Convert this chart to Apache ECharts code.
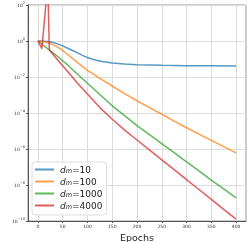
<!DOCTYPE html>
<html><head><meta charset="utf-8">
<script src="https://cdn.jsdelivr.net/npm/echarts@6/dist/echarts.min.js"></script>
<style>html,body{margin:0;padding:0;background:#fff}#c{width:249px;height:242px}</style>
</head><body><div id="c"></div>
<script>
// ---- data ----
const xTicks = [0, 50, 100, 150, 200, 250, 300, 350, 400];
const yTicks = [1e-10, 1e-8, 1e-6, 1e-4, 1e-2, 1e0, 1e2];
const names = ['10', '100', '1000', '4000'];

const epochs10 = [0,10,20,30,40,50,60,70,80,90,100,110,120,130,140,150,175,200,250,300,350,400];
const loss10 = [1,0.977,0.933,0.832,0.692,0.537,0.398,0.295,0.219,0.158,0.120,0.0977,0.0832,0.0724,0.0661,0.0603,0.0525,0.0479,0.0447,0.0427,0.0417,0.0407];

const epochs100 = [0,10,20,30,45,60,80,100,125,150,175,200,225,250,275,300,325,350,375,400];
const loss100 = [1,0.933,0.794,0.631,0.380,0.178,0.0631,0.0234,8.32e-3,3.16e-3,1.20e-3,4.79e-4,2.0e-4,8.51e-5,3.55e-5,1.51e-5,6.76e-6,3.02e-6,1.35e-6,6.03e-7];

const epochs1000 = [0,10,24,40,60,80,100,125,150,175,200,225,250,275,300,325,350,375,400];
const loss1000 = [1,0.603,0.302,0.138,0.0468,0.0141,4.47e-3,1.07e-3,2.51e-4,7.08e-5,2.0e-5,6.31e-6,2.0e-6,6.31e-7,1.91e-7,6.03e-8,1.86e-8,6.03e-9,1.91e-9];

const epochs4000 = [0,8,20,23,40,60,80,100,125,150,175,200,225,250,275,300,325,350,375,400];
const loss4000 = [1,0.38,1.6e3,0.316,0.0891,0.02,4.47e-3,1.12e-3,2.0e-4,4.47e-5,1.12e-5,3.16e-6,8.91e-7,2.51e-7,7.08e-8,2.0e-8,5.62e-9,1.58e-9,4.47e-10,1.26e-10];

const colors = ['#1f77b4', '#ff7f0e', '#2ca02c', '#d62728'];
// --------------------------------------

const pairs = (xs, ys) => xs.map((x, i) => [x, ys[i]]);
const seriesData = [pairs(epochs10, loss10), pairs(epochs100, loss100), pairs(epochs1000, loss1000), pairs(epochs4000, loss4000)];
const font = 'DejaVu Sans';

const chart = echarts.init(document.getElementById('c'), null, {renderer: 'canvas'});
chart.setOption({
  animation: false,
  backgroundColor: '#fff',
  grid: {left: 28, top: 5, right: 3, bottom: 21, containLabel: false, outerBoundsMode: 'none',
         show: true, borderColor: '#999', borderWidth: 1},
  xAxis: {
    type: 'value', min: -20, max: 420,
    name: 'Epochs', nameLocation: 'middle', nameGap: 11,
    nameTextStyle: {fontFamily: font, fontSize: 9.5, color: '#222'},
    axisLine: {show: true, onZero: false, lineStyle: {color: '#555', width: 1}},
    axisTick: {show: true, length: 2, customValues: xTicks, lineStyle: {color: '#555'}},
    axisLabel: {customValues: xTicks, fontFamily: font, fontSize: 4.5, color: '#333', margin: 3},
    splitLine: {show: true, lineStyle: {color: '#dcdcdc', width: 1}}
  },
  yAxis: {
    type: 'log', logBase: 10, min: 1e-10, max: 1e2, interval: 2,
    name: 'Training loss:', nameLocation: 'middle', nameGap: 20,
    nameTextStyle: {fontFamily: font, fontSize: 9.5, color: '#222'},
    axisLine: {show: true, onZero: false, lineStyle: {color: '#555', width: 1}},
    axisTick: {show: true, length: 2, customValues: yTicks, lineStyle: {color: '#555'}},
    axisLabel: {
      customValues: yTicks, margin: 3, fontFamily: font, color: '#333',
      formatter: v => {
        const e = Math.round(Math.log10(v));
        return '{b|10}{s|' + (e < 0 ? '\u2212' + (-e) : e) + '}';
      },
      rich: {
        b: {fontSize: 4.5, fontFamily: font, color: '#333', lineHeight: 7, verticalAlign: 'bottom'},
        s: {fontSize: 3.5, fontFamily: font, color: '#333', lineHeight: 7, verticalAlign: 'top'}
      }
    },
    splitLine: {show: true, lineStyle: {color: '#dcdcdc', width: 1}}
  },
  legend: {
    orient: 'vertical', left: 32, top: 162,
    padding: [4, 4, 4, 3],
    itemGap: 3, itemWidth: 19, itemHeight: 2,
    icon: 'rect',
    backgroundColor: 'rgba(255,255,255,0.85)',
    borderColor: '#ddd', borderWidth: 1, borderRadius: 3,
    data: names.map(n => ({name: n})),
    formatter: n => '{i|d}{m|m}{t|=' + n + '}',
    textStyle: {
      fontFamily: font, fontSize: 9, color: '#222', padding: [0, 0, 0, 1],
      rich: {
        i: {fontFamily: font, fontSize: 9, fontStyle: 'italic', color: '#222', lineHeight: 11, verticalAlign: 'bottom'},
        m: {fontFamily: font, fontSize: 6.5, fontStyle: 'italic', color: '#222', lineHeight: 9, verticalAlign: 'bottom'},
        t: {fontFamily: font, fontSize: 9, color: '#222', lineHeight: 11, verticalAlign: 'bottom'}
      }
    }
  },
  series: names.map((n, k) => ({
    name: n, type: 'line', data: seriesData[k],
    showSymbol: false, symbol: 'none', clip: true,
    smooth: false,
    itemStyle: {color: colors[k], opacity: 0.75},
    lineStyle: {color: colors[k], width: 1.5, opacity: 0.75},
    z: 2 + k
  }))
});
</script></body></html>
